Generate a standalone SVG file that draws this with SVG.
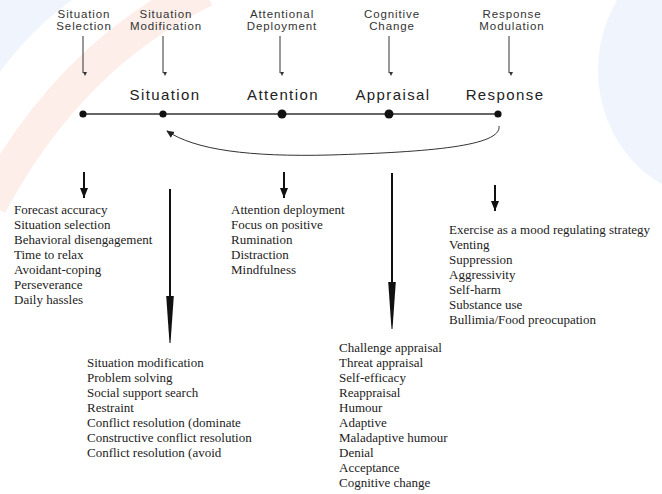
<svg xmlns="http://www.w3.org/2000/svg" width="662" height="494" viewBox="0 0 662 494">
<defs>
<style>
.top{font-family:"Liberation Sans",Arial,sans-serif;font-size:11.5px;fill:#333;text-anchor:middle;letter-spacing:0.9px}
.stage{font-family:"Liberation Sans",Arial,sans-serif;font-size:15px;fill:#222;text-anchor:middle;letter-spacing:1.4px}
.list{font-family:"Liberation Serif","Times New Roman",serif;font-size:13px;fill:#222}
.thin{stroke:#333;stroke-width:1;fill:none}
.thick{stroke:#111;stroke-width:2;fill:none}
.wm{fill:#f0f4fc}
</style>
<marker id="tiny" markerWidth="6" markerHeight="6" refX="3" refY="5" orient="auto-start-reverse" markerUnits="userSpaceOnUse" viewBox="0 0 6 6">
<path d="M1,2 L5,2 L3,6 Z" fill="#333" transform="rotate(-90 3 3)"/>
</marker>
<marker id="head" markerWidth="10" markerHeight="12" refX="10" refY="5" orient="auto" markerUnits="userSpaceOnUse" viewBox="0 0 10 10">
<path d="M0,1 L10,5 L0,9 Z" fill="#111"/>
</marker>
<marker id="small" markerWidth="8" markerHeight="8" refX="7" refY="4" orient="auto" markerUnits="userSpaceOnUse" viewBox="0 0 8 8">
<path d="M0,0.5 L8,4 L0,7.5 Z" fill="#222"/>
</marker>
</defs>
<rect width="662" height="494" fill="#ffffff"/>
<g id="watermark">
<path d="M0,0 L72,0 Q30,30 0,72 Z" class="wm"/>
<path d="M205,-10 Q70,55 -10,205" fill="none" stroke="#fdeee9" stroke-width="34"/>
<ellipse cx="720" cy="70" rx="122" ry="130" class="wm"/>
</g>
<g id="connectors">
<line x1="83" y1="36" x2="83" y2="73" class="thin" marker-end="url(#tiny)"/>
<line x1="163" y1="36" x2="163" y2="73" class="thin" marker-end="url(#tiny)"/>
<line x1="280" y1="36" x2="280" y2="73" class="thin" marker-end="url(#tiny)"/>
<line x1="389" y1="36" x2="389" y2="73" class="thin" marker-end="url(#tiny)"/>
<line x1="509" y1="36" x2="509" y2="73" class="thin" marker-end="url(#tiny)"/>
<line x1="83" y1="114" x2="498" y2="114" stroke="#333" stroke-width="1.3"/>
<path d="M499,126 C502,146 430,152 330,155 C250,157 195,150 167,131" class="thin" stroke-width="1.2" marker-end="url(#small)"/>
<line x1="84" y1="172" x2="84" y2="198" class="thick" marker-end="url(#head)"/>
<line x1="284" y1="172" x2="284" y2="198" class="thick" marker-end="url(#head)"/>
<line x1="495" y1="185" x2="495" y2="211" class="thick" marker-end="url(#head)"/>
<line x1="170" y1="189" x2="170" y2="300" class="thick"/>
<path d="M166.2,296 L173.8,296 L170.5,343 L169.5,343 Z" fill="#111"/>
<line x1="392" y1="173" x2="392" y2="286" class="thick"/>
<path d="M388.2,282 L395.8,282 L392.5,329 L391.5,329 Z" fill="#111"/>
</g>
<g id="node-situation-selection">
<text class="top" x="84" y="18">Situation</text>
<text class="top" x="84" y="30">Selection</text>
<circle cx="83" cy="114" r="3.6" fill="#111"/>
</g>
<g id="node-situation-modification">
<text class="top" x="166" y="18">Situation</text>
<text class="top" x="166" y="30">Modification</text>
</g>
<g id="node-attentional-deployment">
<text class="top" x="282" y="18">Attentional</text>
<text class="top" x="282" y="30">Deployment</text>
</g>
<g id="node-cognitive-change">
<text class="top" x="392" y="18">Cognitive</text>
<text class="top" x="392" y="30">Change</text>
</g>
<g id="node-response-modulation">
<text class="top" x="512" y="18">Response</text>
<text class="top" x="512" y="30">Modulation</text>
</g>
<g id="node-situation">
<text class="stage" x="165" y="100">Situation</text>
<circle cx="163" cy="114" r="3.6" fill="#111"/>
</g>
<g id="node-attention">
<text class="stage" x="283" y="100">Attention</text>
<circle cx="282" cy="114" r="4.5" fill="#111"/>
</g>
<g id="node-appraisal">
<text class="stage" x="393" y="100">Appraisal</text>
<circle cx="389" cy="114" r="4.5" fill="#111"/>
</g>
<g id="node-response">
<text class="stage" x="505" y="100">Response</text>
<circle cx="498" cy="114" r="3.6" fill="#111"/>
</g>
<g id="list-selection">
<text class="list" x="14" y="214">Forecast accuracy</text>
<text class="list" x="14" y="229">Situation selection</text>
<text class="list" x="14" y="244">Behavioral disengagement</text>
<text class="list" x="14" y="259">Time to relax</text>
<text class="list" x="14" y="274">Avoidant-coping</text>
<text class="list" x="14" y="289">Perseverance</text>
<text class="list" x="14" y="304">Daily hassles</text>
</g>
<g id="list-attention">
<text class="list" x="231" y="214">Attention deployment</text>
<text class="list" x="231" y="229">Focus on positive</text>
<text class="list" x="231" y="244">Rumination</text>
<text class="list" x="231" y="259">Distraction</text>
<text class="list" x="231" y="274">Mindfulness</text>
</g>
<g id="list-response">
<text class="list" x="449" y="234">Exercise as a mood regulating strategy</text>
<text class="list" x="449" y="249">Venting</text>
<text class="list" x="449" y="264">Suppression</text>
<text class="list" x="449" y="279">Aggressivity</text>
<text class="list" x="449" y="294">Self-harm</text>
<text class="list" x="449" y="309">Substance use</text>
<text class="list" x="449" y="324">Bullimia/Food preocupation</text>
</g>
<g id="list-modification">
<text class="list" x="87" y="367">Situation modification</text>
<text class="list" x="87" y="382">Problem solving</text>
<text class="list" x="87" y="397">Social support search</text>
<text class="list" x="87" y="412">Restraint</text>
<text class="list" x="87" y="427">Conflict resolution (dominate</text>
<text class="list" x="87" y="442">Constructive conflict resolution</text>
<text class="list" x="87" y="457">Conflict resolution (avoid</text>
</g>
<g id="list-appraisal">
<text class="list" x="339" y="352">Challenge appraisal</text>
<text class="list" x="339" y="367">Threat appraisal</text>
<text class="list" x="339" y="382">Self-efficacy</text>
<text class="list" x="339" y="397">Reappraisal</text>
<text class="list" x="339" y="412">Humour</text>
<text class="list" x="339" y="427">Adaptive</text>
<text class="list" x="339" y="442">Maladaptive humour</text>
<text class="list" x="339" y="457">Denial</text>
<text class="list" x="339" y="472">Acceptance</text>
<text class="list" x="339" y="487">Cognitive change</text>
</g>
</svg>
